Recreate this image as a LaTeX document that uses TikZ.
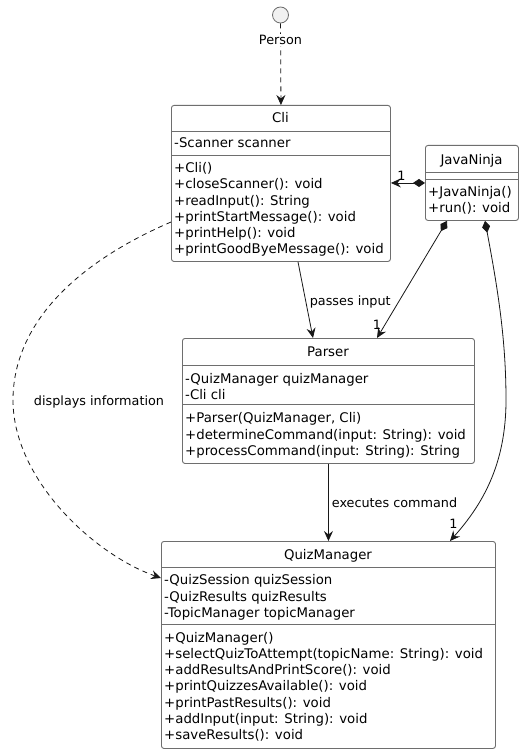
\documentclass[tikz,border=0pt]{standalone}
\usepackage{fontspec}
\setmainfont{DejaVu Sans}
\usetikzlibrary{arrows.meta,calc}
\definecolor{umlborder}{HTML}{6E6E6E}
\definecolor{umlline}{HTML}{181818}
\definecolor{umlfill}{HTML}{F1F1F1}
\newcommand\classfont{\fontsize{13.3}{16.3}\selectfont}
\newcommand\labelfont{\fontsize{12.8}{15}\selectfont}
\tikzset{
  cls/.style={draw=umlborder, line width=0.9pt, rounded corners=2.5pt, fill=white, inner sep=0pt, anchor=north west},
  sepline/.style={draw=umlborder, line width=0.9pt},
  mem/.style={anchor=base west, inner sep=0pt, font=\classfont},
  ttl/.style={anchor=base, inner sep=0pt, font=\classfont},
  lbl/.style={inner sep=0pt, font=\labelfont},
  conn/.style={draw=umlline, line width=0.8pt},
  dashconn/.style={conn, dash pattern=on 5pt off 4pt},
  head/.style={-{Stealth[length=10pt,width=9pt,inset=3.5pt]}},
  comp/.style={{Diamond[length=12pt,width=8pt]}-{Stealth[length=10pt,width=9pt,inset=3.5pt]}},
}
\begin{document}
\begin{tikzpicture}[x=1pt,y=-1pt]
\useasboundingbox (0,0) rectangle (525,754);
\fill[white] (0,0) rectangle (525,754);

% interface circle
\node[circle, draw=umlborder, fill=umlfill, minimum size=16pt, inner sep=0pt, line width=0.8pt] (person) at (280.5,15) {};

% ---------- class Cli ----------
\node[cls, minimum width=219pt, minimum height=156pt] (cli) at (171,105) {};
\draw[sepline] ($(cli.north west)+(0,26)$) -- ($(cli.north east)+(0,26)$);
\draw[sepline] ($(cli.north west)+(0,50)$) -- ($(cli.north east)+(0,50)$);
\node[ttl] (cli-t) at (280.5,123) {Cli};
\node[mem] (cli-f0) at (174,147.7) {-Scanner scanner};
\foreach \t [count=\i from 0] in {{+Cli()},{+closeScanner(): void},{+readInput(): String},{+printStartMessage(): void},{+printHelp(): void},{+printGoodByeMessage(): void}}
  \node[mem] (cli-m\i) at (174,172.4+16.3*\i) {\t};

% ---------- class JavaNinja ----------
\node[cls, minimum width=93pt, minimum height=75pt] (jn) at (425,145) {};
\draw[sepline] ($(jn.north west)+(0,27)$) -- ($(jn.north east)+(0,27)$);
\draw[sepline] ($(jn.north west)+(0,34)$) -- ($(jn.north east)+(0,34)$);
\node[ttl] (jn-t) at (471.5,164.7) {JavaNinja};
\foreach \t [count=\i from 0] in {{+JavaNinja()},{+run(): void}}
  \node[mem] (jn-m\i) at (428,196.4+16.3*\i) {\t};

% ---------- class Parser ----------
\node[cls, minimum width=292pt, minimum height=125pt] (parser) at (182,338) {};
\draw[sepline] ($(parser.north west)+(0,27)$) -- ($(parser.north east)+(0,27)$);
\draw[sepline] ($(parser.north west)+(0,66)$) -- ($(parser.north east)+(0,66)$);
\node[ttl] (parser-t) at (328,356.7) {Parser};
\foreach \t [count=\i from 0] in {{-QuizManager quizManager},{-Cli cli}}
  \node[mem] (parser-f\i) at (185,383.2+16.3*\i) {\t};
\foreach \t [count=\i from 0] in {{+Parser(QuizManager, Cli)},{+determineCommand(input: String): void},{+processCommand(input: String): String}}
  \node[mem] (parser-m\i) at (185,422.7+16.3*\i) {\t};

% ---------- class QuizManager ----------
\node[cls, minimum width=334pt, minimum height=207pt] (qm) at (161,541) {};
\draw[sepline] ($(qm.north west)+(0,26.5)$) -- ($(qm.north east)+(0,26.5)$);
\draw[sepline] ($(qm.north west)+(0,83.5)$) -- ($(qm.north east)+(0,83.5)$);
\node[ttl] (qm-t) at (328,559.7) {QuizManager};
\foreach \t [count=\i from 0] in {{-QuizSession quizSession},{-QuizResults quizResults},{-TopicManager topicManager}}
  \node[mem] (qm-f\i) at (164,584.7+16.3*\i) {\t};
\foreach \t [count=\i from 0] in {{+QuizManager()},{+selectQuizToAttempt(topicName: String): void},{+addResultsAndPrintScore(): void},{+printQuizzesAvailable(): void},{+printPastResults(): void},{+addInput(input: String): void},{+saveResults(): void}}
  \node[mem] (qm-m\i) at (164,642+16.3*\i) {\t};

% ---------- relations ----------
% Person uses Cli
\draw[dashconn, head] (person) -- (cli.north);
\node[lbl, fill=white, inner sep=1.5pt] (person-l) at (280.5,40) {Person};

% JavaNinja composes Cli
\draw[conn, comp] (jn.west) -- (jn.west -| cli.east);
\node[lbl] (jn-cli-m) at (401.5,175.5) {1};

% JavaNinja composes Parser
\draw[conn, comp] ($(jn.south west)+(22,0)$) -- ($(parser.north west)+(195,0)$);
\node[lbl] (jn-parser-m) at (377,325) {1};

% JavaNinja composes QuizManager
\draw[conn, comp] ($(jn.south west)+(60,0)$)
  .. controls (498,290) and (506,340) .. (506,400)
  .. controls (506,465) and (482,505) .. ($(qm.north west)+(289,0)$);
\node[lbl] (jn-qm-m) at (453.5,523.5) {1};

% Cli passes input to Parser
\draw[conn, head] ($(cli.south west)+(127,0)$) -- ($(parser.north west)+(131,0)$)
  node[lbl, pos=0.53, anchor=west, xshift=3.5pt] (pass-l) {passes input};

% Parser executes command on QuizManager
\draw[conn, head] (parser.south) -- (qm.north)
  node[lbl, midway, anchor=west, xshift=3pt] (exec-l) {executes command};

% Cli displays information from QuizManager
\draw[dashconn, head] ($(cli.north west)+(0,117)$)
  .. controls (60,270) and (13,335) .. (13,400)
  .. controls (13,480) and (95,555) .. ($(qm.north west)+(0,37)$);
\node[lbl] (disp-l) at (99,402) {displays information};
\end{tikzpicture}
\end{document}
